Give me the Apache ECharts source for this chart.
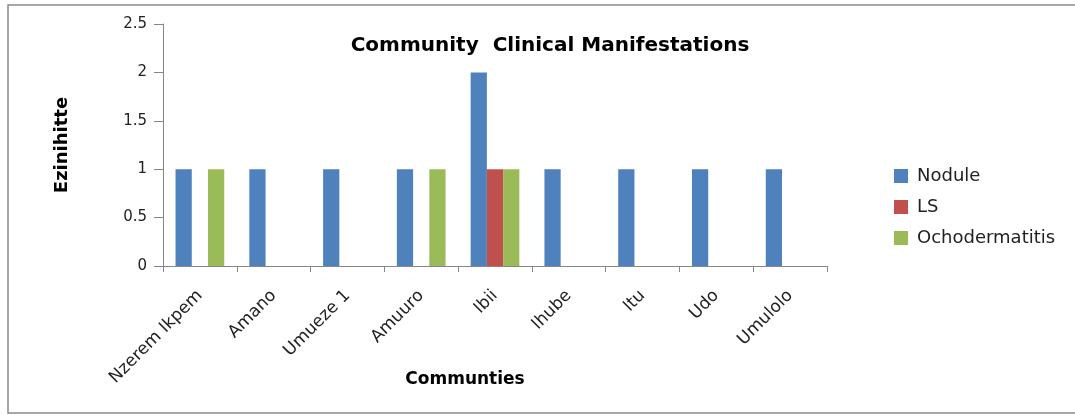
<!DOCTYPE html>
<html>
<head>
<meta charset="utf-8">
<script src="https://cdn.jsdelivr.net/npm/echarts@6/dist/echarts.min.js"></script>
<style>
  html, body { margin: 0; padding: 0; background: #fff; }
  #chart { width: 1075px; height: 415px; }
</style>
</head>
<body>
<div id="chart"></div>
<script>
// communities along the x axis
const communities = ['Nzerem Ikpem', 'Amano', 'Umueze 1', 'Amuuro', 'Ibii', 'Ihube', 'Itu', 'Udo', 'Umulolo']

// counts per manifestation
const nodule = [1, 1, 1, 1, 2, 1, 1, 1, 1]
const ls = [0, 0, 0, 0, 1, 0, 0, 0, 0]
const ochodermatitis = [1, 0, 0, 1, 1, 0, 0, 0, 0]

const yTicks = ['0', '0.5', '1', '1.5', '2', '2.5']

const font = 'DejaVu Sans'
const chart = echarts.init(document.getElementById('chart'))

chart.setOption({
  animation: false,
  textStyle: { fontFamily: font },
  title: {
    text: 'Community  Clinical Manifestations',
    left: 545,
    top: 31,
    textAlign: 'center',
    textStyle: { fontSize: 20, fontWeight: 'bold', color: '#000', fontFamily: font }
  },
  graphic: [{
    type: 'rect',
    shape: { x: 8, y: 5, width: 1080, height: 408 },
    style: { fill: 'none', stroke: '#8a8a8a', lineWidth: 1.5 },
    silent: true
  }],
  legend: {
    orient: 'vertical',
    left: 889,
    top: 162,
    itemWidth: 14,
    itemHeight: 14,
    itemGap: 13,
    icon: 'rect',
    textStyle: { fontSize: 18, color: '#222', padding: [0, 0, 0, 4] },
    data: ['Nodule', 'LS', 'Ochodermatitis']
  },
  grid: { left: 163, right: 248, top: 24, bottom: 149 },
  xAxis: {
    type: 'category',
    data: communities,
    name: 'Communties',
    nameLocation: 'middle',
    nameGap: 105,
    nameMoveOverlap: false,
    nameTextStyle: { fontSize: 17, fontWeight: 'bold', color: '#000', padding: [0, 60, 0, 0] },
    axisLine: { lineStyle: { color: '#868686' } },
    axisTick: { show: true, length: 6, lineStyle: { color: '#868686' } },
    axisLabel: { rotate: 45, fontSize: 17, color: '#222', margin: 27 }
  },
  yAxis: {
    type: 'value',
    min: 0,
    max: 2.5,
    interval: 0.5,
    name: 'Ezinihitte',
    nameLocation: 'middle',
    nameGap: 92,
    nameRotate: 90,
    nameMoveOverlap: false,
    nameTextStyle: { fontSize: 18, fontWeight: 'bold', color: '#000' },
    splitLine: { show: false },
    axisLine: { show: true, lineStyle: { color: '#868686' } },
    axisTick: { show: true, length: 9, lineStyle: { color: '#868686' } },
    axisLabel: {
      fontSize: 15, color: '#222', margin: 16,
      formatter: v => yTicks[Math.round(v / 0.5)]
    }
  },
  series: [
    { name: 'Nodule', type: 'bar', data: nodule, barWidth: '22%', barGap: '0%', itemStyle: { color: '#4f81bd' } },
    { name: 'LS', type: 'bar', data: ls, barWidth: '22%', barGap: '0%', itemStyle: { color: '#c0504d' } },
    { name: 'Ochodermatitis', type: 'bar', data: ochodermatitis, barWidth: '22%', barGap: '0%', itemStyle: { color: '#9bbb59' } }
  ]
})
</script>
</body>
</html>
